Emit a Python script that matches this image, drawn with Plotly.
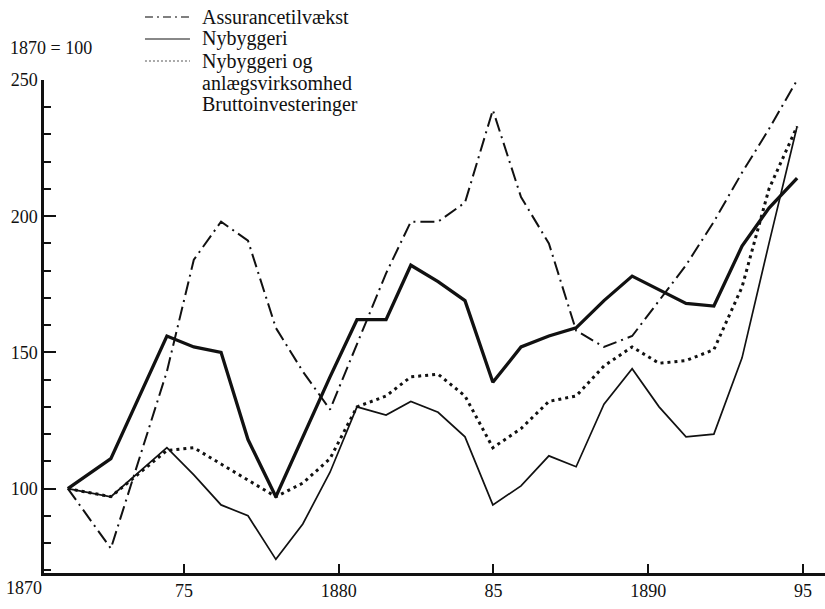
import plotly.graph_objects as go

# x positions (vertices of the curves)
years = [1871.25, 1872.64, 1874.45, 1875.32, 1876.20, 1877.07, 1877.97, 1878.84,
         1879.72, 1880.59, 1881.53, 1882.33, 1883.21, 1884.08, 1884.98, 1885.89,
         1886.79, 1887.67, 1888.57, 1889.48, 1890.35, 1891.22, 1892.12, 1893.03,
         1893.90, 1894.81]

assurance = [100, 78, 143, 184, 198, 191, 159, 143, 129, 153, 179, 198, 198,
             205, 239, 207, 190, 158, 152, 156, 169, 182, 198, 216, 232, 250]
nybyggeri = [100, 97, 115, 105, 94, 90, 74, 87, 106, 130, 127, 132, 128,
             119, 94, 101, 112, 108, 131, 144, 130, 119, 120, 148, 190, 233]
nyb_anlaeg = [100, 97, 114, 115, 109, 103, 97, 102, 111, 130, 134, 141, 142,
              134, 115, 122, 132, 134, 145, 152, 146, 147, 151, 174, 210, 233]
brutto = [100, 111, 156, 152, 150, 118, 97, 119, 141, 162, 162, 182, 176,
          169, 139, 152, 156, 159, 169, 178, 173, 168, 167, 189, 203, 214]

legend_lines = ["Assurancetilvækst", "Nybyggeri", "Nybyggeri og",
                "anlægsvirksomhed", "Bruttoinvesteringer"]
series_names = ["Assurancetilvækst", "Nybyggeri",
                "Nybyggeri og anlægsvirksomhed", "Bruttoinvesteringer"]

x_tickvals = [1875, 1880, 1885, 1890, 1895]
x_ticktext = ["75", "1880", "85", "1890", "95"]
y_tickvals = [100, 150, 200, 250]

FONT = '"Liberation Serif", "Times New Roman", Tinos, serif'
INK = "#111111"

fig = go.Figure()
fig.add_trace(go.Scatter(x=years, y=assurance, name=series_names[0], mode="lines",
                         line=dict(color=INK, width=2, dash="14px,5px,2px,5px")))
fig.add_trace(go.Scatter(x=years, y=nybyggeri, name=series_names[1], mode="lines",
                         line=dict(color=INK, width=1.7)))
fig.add_trace(go.Scatter(x=years, y=nyb_anlaeg, name=series_names[2], mode="lines",
                         line=dict(color=INK, width=3, dash="3px,4px")))
fig.add_trace(go.Scatter(x=years, y=brutto, name=series_names[3], mode="lines",
                         line=dict(color=INK, width=3.3)))

# hand-drawn style key (as in the printed figure)
row_y = [1.1278, 1.0832, 1.0385, 0.9939, 0.9493]
annotations = []
for txt, yy in zip(legend_lines, row_y):
    annotations.append(dict(text=txt, x=0.1997, y=yy, xref="paper", yref="paper",
                            xanchor="left", yanchor="middle", showarrow=False,
                            font=dict(family=FONT, size=20, color=INK)))
annotations.append(dict(text="1870 = 100", x=-0.046, y=1.065, xref="paper",
                        yref="paper", xanchor="left", yanchor="middle",
                        showarrow=False, font=dict(family=FONT, size=18, color=INK)))
annotations.append(dict(text="1870", x=-0.0256, y=-0.031, xref="paper", yref="paper",
                        xanchor="center", yanchor="middle", showarrow=False,
                        font=dict(family=FONT, size=18, color=INK)))

key_styles = [dict(color="#555555", width=1.5, dash="8px,4px,2px,4px"),
              dict(color="#888888", width=2),
              dict(color="#aaaaaa", width=2, dash="2px,2px")]
shapes = []
for st, yy in zip(key_styles, row_y[:3]):
    shapes.append(dict(type="line", xref="paper", yref="paper",
                       x0=0.1293, x1=0.1869, y0=yy, y1=yy, line=st))

fig.update_layout(
    width=825, height=609,
    margin=dict(l=44, r=0, t=80, b=36),
    paper_bgcolor="white", plot_bgcolor="white",
    font=dict(family=FONT, size=18, color=INK),
    showlegend=False,
    annotations=annotations,
    shapes=shapes,
)

fig.update_xaxes(range=[1870.48, 1895.71], showline=True, linewidth=2.5,
                 linecolor=INK, showgrid=False, zeroline=False,
                 tickmode="array", tickvals=x_tickvals, ticktext=x_ticktext,
                 ticks="inside", ticklen=9, tickwidth=1.5, tickcolor=INK,
                 tickfont=dict(family=FONT, size=18, color=INK))
fig.update_yaxes(range=[69, 250], showline=True, linewidth=2.5,
                 linecolor=INK, showgrid=False, zeroline=False,
                 tickmode="array", tickvals=y_tickvals,
                 ticks="inside", ticklen=12, tickwidth=2, tickcolor=INK,
                 minor=dict(dtick=10, tick0=100, ticks="inside", ticklen=7,
                            tickwidth=2, tickcolor=INK),
                 tickfont=dict(family=FONT, size=18, color=INK))

fig.write_html("out.html",
               config={"displayModeBar": False},
               post_script="document.body.style.margin='0px';")
